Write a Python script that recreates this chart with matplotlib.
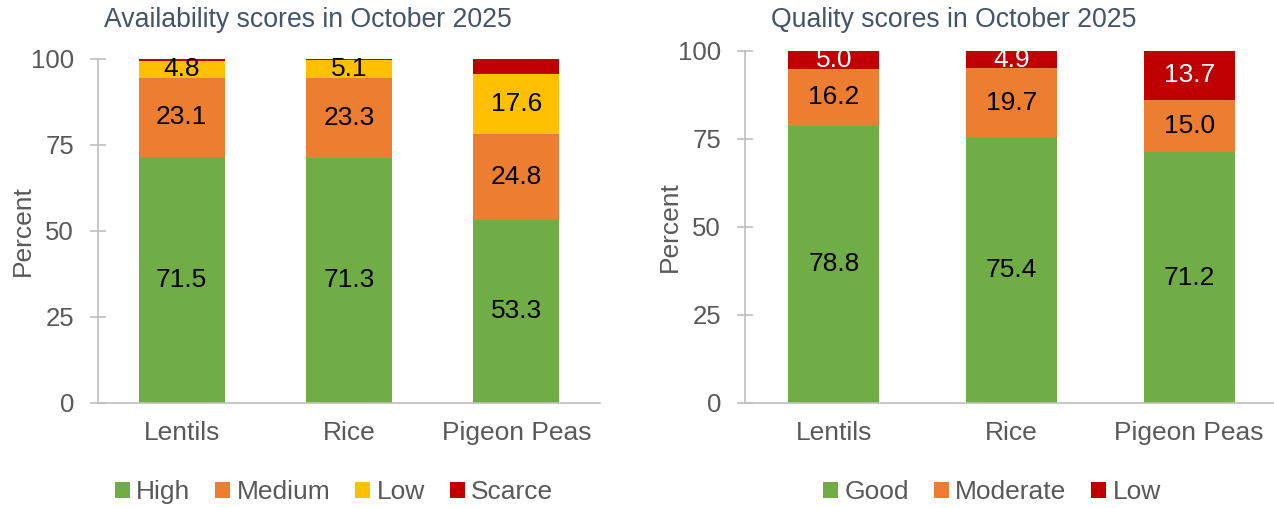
import matplotlib.pyplot as plt
import numpy as np

plt.rcParams['font.family'] = ['Liberation Sans', 'DejaVu Sans']

crops = ['Lentils', 'Rice', 'Pigeon Peas']

# availability (percent)
avail_high = [71.5, 71.3, 53.3]
avail_medium = [23.1, 23.3, 24.8]
avail_low = [4.8, 5.1, 17.6]
avail_scarce = [0.6, 0.3, 4.3]

# quality (percent)
qual_good = [78.8, 75.4, 71.2]
qual_moderate = [16.2, 19.7, 15.0]
qual_low = [5.0, 4.9, 13.7]

GREEN = '#70AD47'
ORANGE = '#ED7D31'
YELLOW = '#FFC000'
RED = '#C00000'
GREY = '#595959'
AXIS = '#BFBFBF'
TITLE = '#44546A'
FS = 19

W, H = 1274, 508
fig = plt.figure(figsize=(W / 100, H / 100), dpi=100)


def px_axes(x0, x1, y_top, y_bot):
    return fig.add_axes([x0 / W, 1 - y_bot / H, (x1 - x0) / W, (y_bot - y_top) / H])


def style(ax, title, title_x):
    ax.set_xlim(-0.5, 2.5)
    ax.set_ylim(0, 100)
    ax.set_yticks([0, 25, 50, 75, 100])
    for s in ['top', 'right']:
        ax.spines[s].set_visible(False)
    ax.spines['left'].set_color(AXIS)
    ax.spines['bottom'].set_color(AXIS)
    ax.spines['left'].set_linewidth(1.2)
    ax.spines['bottom'].set_linewidth(1.2)
    ax.tick_params(axis='y', direction='inout', length=11, width=1.2, color=AXIS,
                   labelsize=18.5, labelcolor=GREY, pad=11.8)
    ax.tick_params(axis='x', length=0, labelsize=FS, labelcolor=GREY, pad=13)
    ax.set_xticks(range(len(crops)))
    ax.set_xticklabels(crops)
    ax.set_ylabel('Percent', fontsize=FS, color=GREY, labelpad=-3)
    fig.text(title_x / W, 1 - 20 / H, title, fontsize=19.2, color=TITLE,
             ha='center', va='center')


def stack(ax, series, colors, names, width, label_colors):
    x = np.arange(len(crops))
    bottom = np.zeros(len(crops))
    for vals, c, n, lc in zip(series, colors, names, label_colors):
        vals = np.array(vals)
        ax.bar(x, vals, width, bottom=bottom, color=c, label=n, linewidth=0)
        if lc is not None:
            for xi, v, bt in zip(x, vals, bottom):
                ax.text(xi, bt + v / 2, f'{v:.1f}', ha='center', va='center',
                        fontsize=FS, color=lc)
        bottom = bottom + vals


def legend(ax, cx):
    fig.legend(*ax.get_legend_handles_labels(), loc='center',
               bbox_to_anchor=(cx / W, 1 - 492 / H), ncol=4, frameon=False,
               fontsize=FS, labelcolor=GREY, handlelength=0.57, handleheight=0.57,
               handletextpad=0.23, columnspacing=0.95, borderpad=0)


# left chart
ax1 = px_axes(98, 600, 59, 403)
stack(ax1, [avail_high, avail_medium, avail_low, avail_scarce],
      [GREEN, ORANGE, YELLOW, RED], ['High', 'Medium', 'Low', 'Scarce'],
      0.515, ['black', 'black', 'black', None])
style(ax1, 'Availability scores in October 2025', 308)
legend(ax1, 334)

# right chart
ax2 = px_axes(745, 1278, 51, 403)
stack(ax2, [qual_good, qual_moderate, qual_low],
      [GREEN, ORANGE, RED], ['Good', 'Moderate', 'Low'],
      0.513, ['black', 'black', 'white'])
style(ax2, 'Quality scores in October 2025', 954)
legend(ax2, 992)

fig.savefig('out.png', dpi=100)
